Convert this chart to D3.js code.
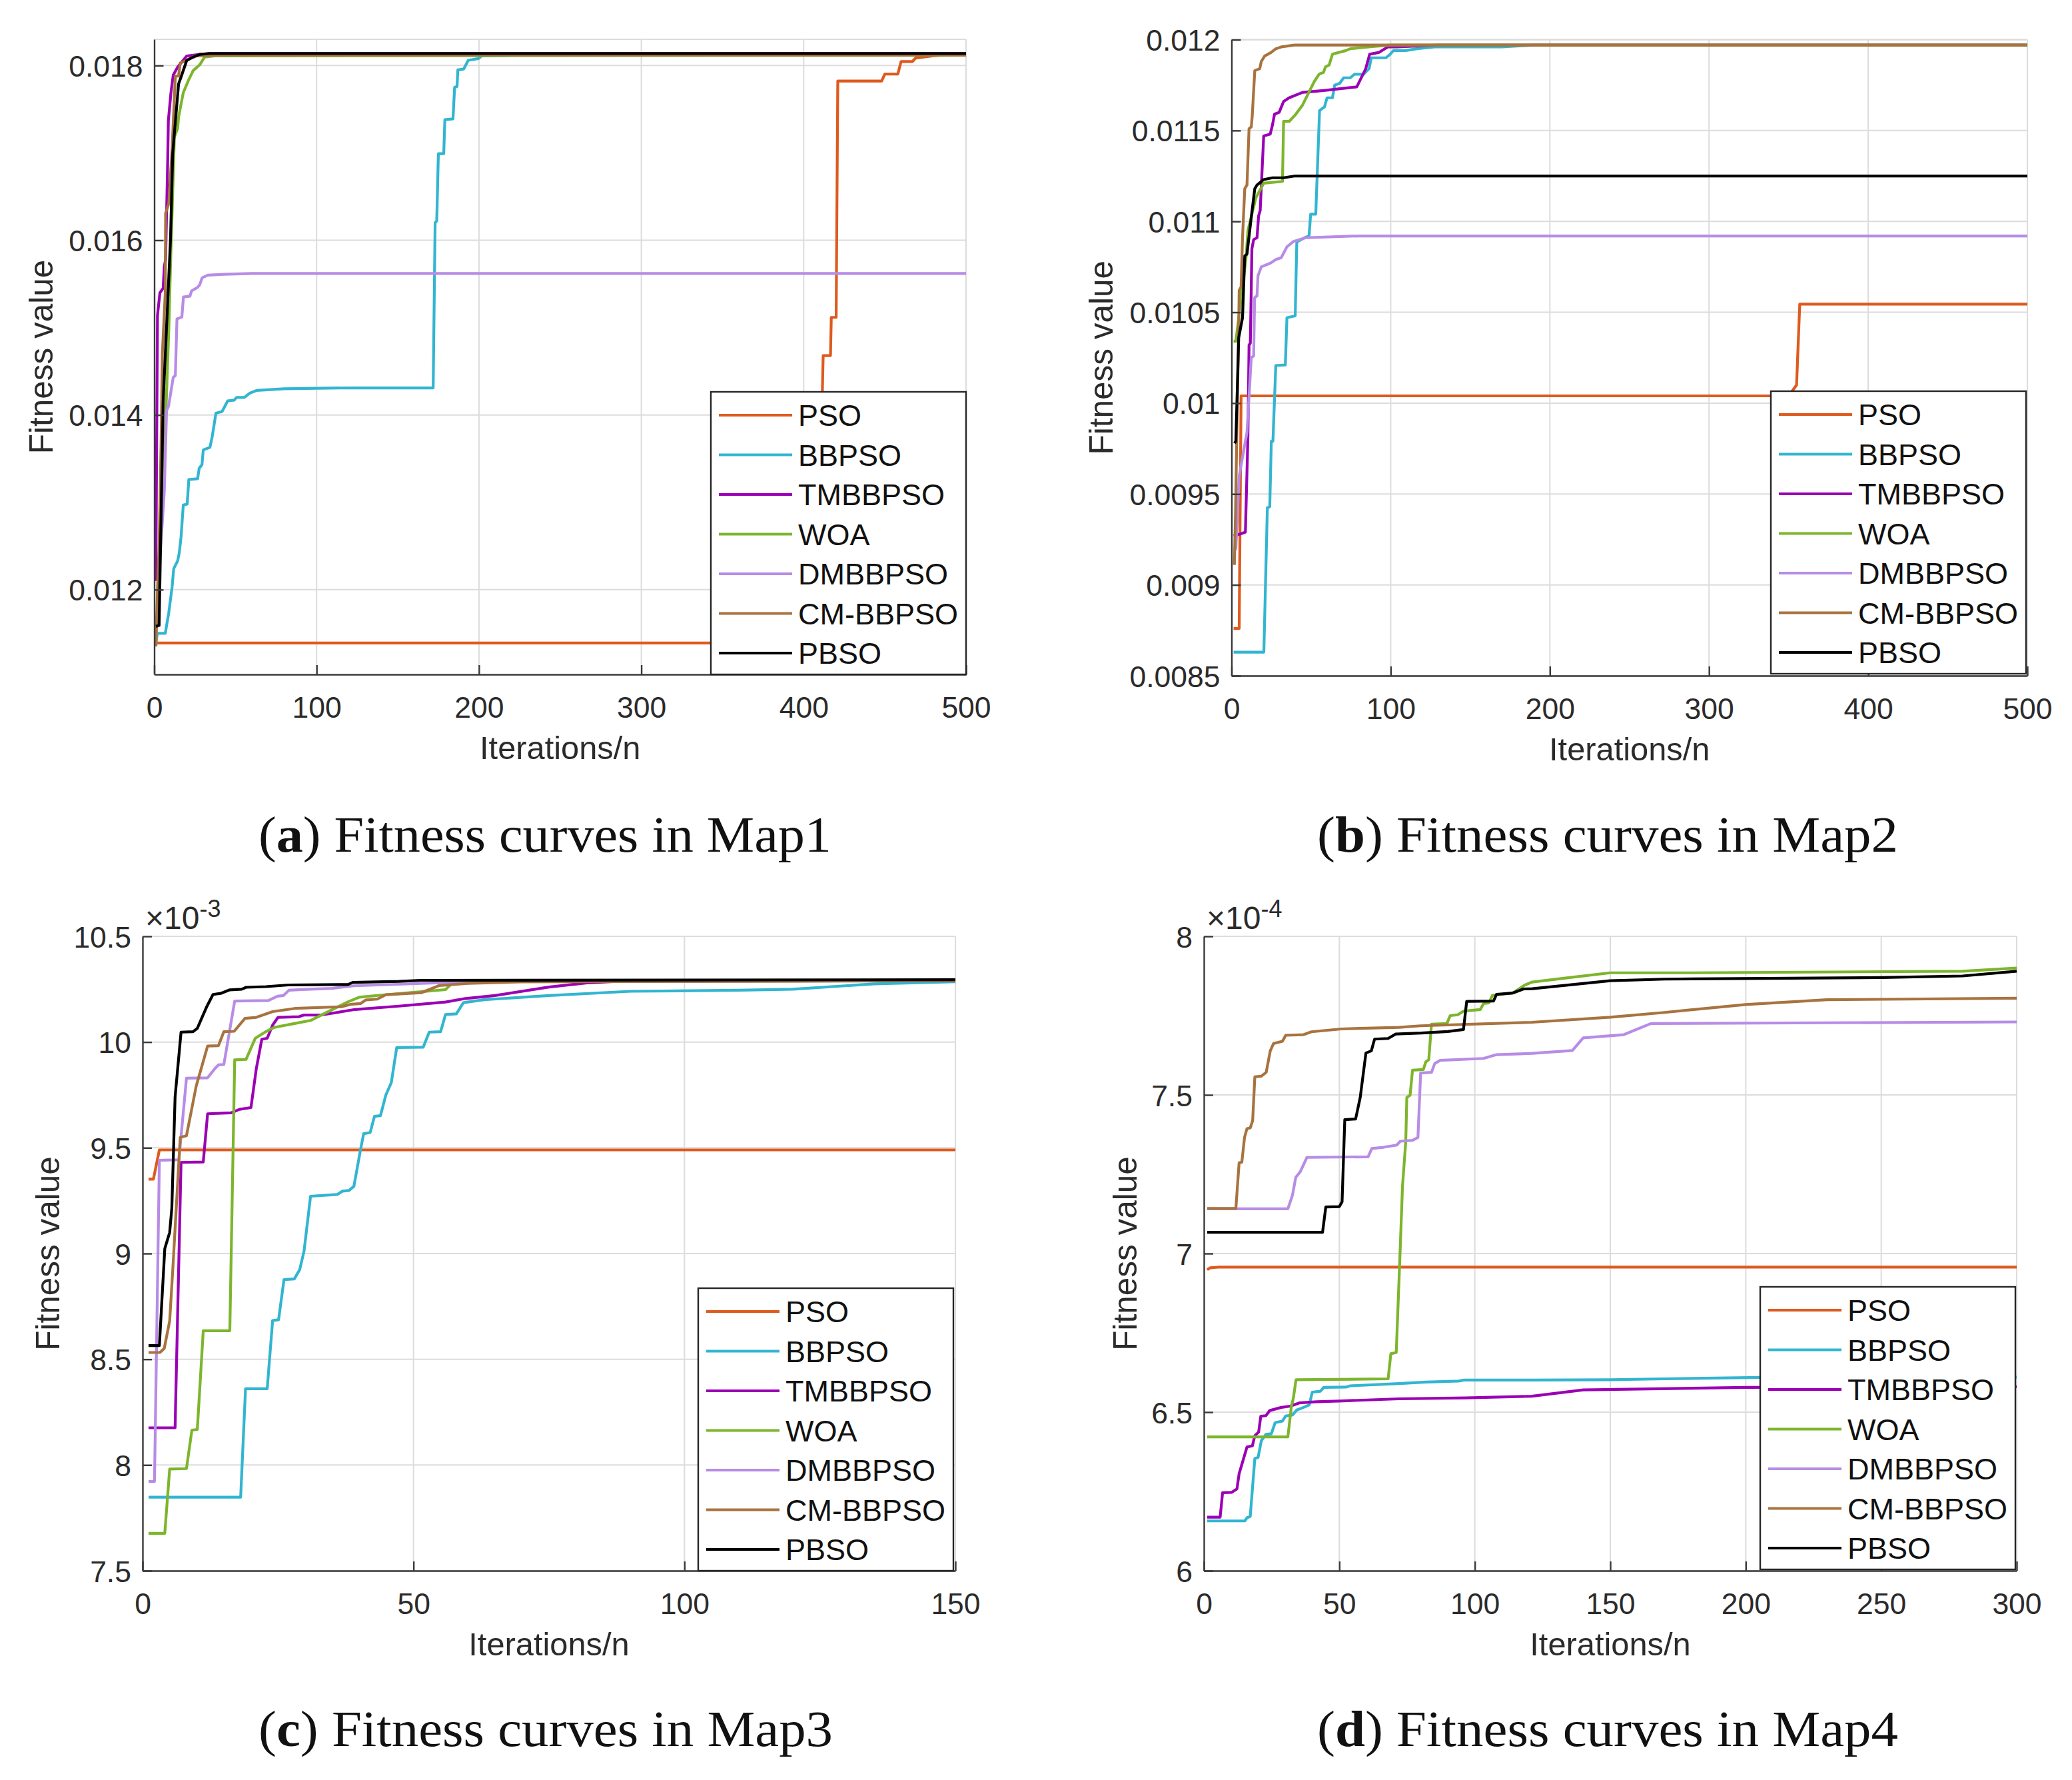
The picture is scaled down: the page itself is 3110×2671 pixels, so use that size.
<!DOCTYPE html>
<html>
<head>
<meta charset="utf-8">
<script src="https://cdn.jsdelivr.net/npm/d3@7"></script>
<style>
  html, body { margin: 0; background: #fff; }
  text { font-family: "Liberation Sans", Arial, sans-serif; fill: #2b2b2b; }
  .caption { font-family: "Liberation Serif", serif; fill: #111; }
</style>
</head>
<body>
<svg id="fig" width="3110" height="2671"></svg>
<script>
var algoNames = ["PSO", "BBPSO", "TMBBPSO", "WOA", "DMBBPSO", "CM-BBPSO", "PBSO"];
var algoColors = ["#de5a1e", "#32b5d1", "#9b00b5", "#7db52d", "#b78ce6", "#a8733f", "#000000"];

// Map1 [iteration, fitness]
var map1PSO = [[1,.01139],[408,.01139],[412,.01468],[416.5,.01468],[417,.015117],[420,.015117],[421,.017823],[448,.017823],[450,.017903],[458,.017903],[460,.018046],[467,.018046],[469,.018086],[480,.018112],[490,.018126],[500,.01813]];
var map1BBPSO = [[1,.0114],[2,.0115],[6.8,.0115],[8.9,.01173],[11,.01203],[12,.01224],[14.4,.01233],[15.4,.01242],[16.5,.0126],[17.9,.01297],[20.3,.01298],[21.3,.01326],[26.7,.01327],[27.7,.01339],[29.4,.01343],[30.2,.0136],[34.3,.01363],[35.6,.01374],[38,.01402],[41.8,.01404],[45.2,.01416],[49.3,.01417],[50.7,.0142],[55.5,.0142],[58.9,.01425],[63,.01428],[80,.0143],[120,.01431],[171.8,.01431],[173,.0162],[174,.01622],[175,.01699],[178.3,.01699],[179,.01738],[184,.01739],[185,.01775],[186.5,.01776],[187,.01795],[190.6,.01796],[193.4,.01806],[199.7,.01808],[201.7,.01811],[230,.01812],[500,.01813]];
var map1TMBBPSO = [[1,.0121],[1.4,.01341],[2,.01514],[3.5,.0154],[5.5,.01545],[6.2,.0157],[7,.01578],[8.3,.01692],[8.7,.01737],[10.3,.01769],[11.7,.01789],[14.4,.017982],[20,.018109],[28,.018127],[34,.018135],[500,.018135]];
var map1WOA = [[1,.01135],[3,.0122],[6,.0134],[9,.015],[10,.0157],[12.4,.01718],[14.4,.01728],[15,.01741],[17.9,.01769],[21.3,.01784],[24,.017943],[28,.018008],[31,.018096],[37,.01811],[500,.01812]];
var map1DMBBPSO = [[1,.0114],[3,.0122],[6.2,.01313],[7.6,.01405],[8.8,.0141],[11.7,.01443],[13,.01445],[14,.0151],[17,.01512],[18,.01535],[22,.01536],[23,.01542],[26.7,.01546],[28,.01549],[29.5,.01557],[33,.0156],[43,.01561],[60,.01562],[500,.01562]];
var map1CM = [[1,.01135],[2,.012],[3,.0125],[4.2,.01366],[5,.0147],[6.8,.0154],[7,.01631],[9,.01642],[11,.01705],[13,.01788],[15,.01788],[16,.01803],[19,.01805],[25,.01811],[40,.01812],[500,.01812]];
var map1PBSO = [[1,.01158],[3,.01159],[5.5,.01415],[10,.016],[11.4,.017],[15,.01779],[16.5,.017867],[20,.018058],[24,.018096],[28,.018127],[34,.018138],[500,.018138]];

// Map2
var map2PSO = [[1.3,.00876],[4.8,.00876],[6,.01004],[350,.01004],[355,.0101],[357,.010545],[500,.010545]];
var map2BBPSO = [[1.3,.00863],[20.3,.00863],[22.5,.009424],[24,.00943],[25,.00979],[26,.00979],[27.8,.010207],[33.8,.01021],[34.8,.01047],[40,.01048],[41,.010887],[45.9,.01091],[48.7,.01092],[49.7,.01104],[52.9,.01104],[55.3,.01161],[58.4,.01163],[60,.01168],[63.4,.01168],[64.8,.01175],[68,.01176],[70.4,.01179],[74.6,.01179],[77.3,.01181],[83,.01181],[86.4,.01184],[87.8,.0119],[97,.0119],[99.7,.01192],[101.7,.01194],[109.4,.01194],[116.4,.01195],[127.5,.01196],[170,.01196],[190,.01197],[500,.01197]];
var map2TMBBPSO = [[1.3,.00927],[5.5,.00928],[8.7,.00929],[10.3,.00982],[11,.01032],[11.8,.01033],[12.8,.01085],[13.9,.0109],[16,.01091],[17,.01103],[18,.01106],[20.2,.01147],[24.3,.01148],[25.7,.01153],[27,.01159],[29.9,.0116],[32.7,.01166],[36.2,.01168],[44.6,.01171],[57.8,.01172],[78.7,.01174],[84.3,.01184],[86.8,.01192],[92.7,.01193],[98.2,.01196],[103.9,.01196],[130,.01197],[500,.01197]];
var map2WOA = [[1.3,.01034],[2.7,.01034],[9,.01079],[10.3,.01095],[15.3,.01113],[20.2,.01121],[32,.01122],[32.7,.01155],[36.2,.01155],[40.4,.01159],[44.6,.01164],[52,.01177],[55,.01181],[57.8,.01182],[59,.01185],[61.3,.01186],[63.4,.01192],[71.8,.01194],[74.6,.01195],[86,.01196],[100,.01197],[500,.01197]];
var map2DMBBPSO = [[1.8,.00919],[2.7,.0092],[4.8,.0096],[9.7,.00984],[12.4,.01025],[13.9,.01026],[14.5,.01058],[16,.01059],[16.6,.0107],[18.7,.01075],[24.3,.01077],[27.8,.01079],[31.2,.0108],[34.8,.01086],[39,.01089],[46.6,.01091],[80,.01092],[500,.01092]];
var map2CM = [[1.8,.00911],[2.5,.0094],[3.2,.00977],[4.4,.01036],[4.8,.01062],[6,.01064],[6.9,.01091],[8.3,.01118],[9.7,.0112],[11,.01151],[12.4,.01152],[13,.01158],[14.6,.01183],[17.7,.01184],[18.7,.01188],[20.8,.01191],[24.9,.01193],[27.8,.01195],[31.2,.01196],[39.5,.01197],[500,.01197]];
var map2PBSO = [[1.8,.00978],[2.7,.00979],[4.5,.01036],[6.9,.01047],[8.3,.01081],[9.7,.01082],[12.5,.01103],[14.6,.01118],[16,.0112],[20.2,.01123],[25.7,.01124],[32.7,.01124],[40,.01125],[500,.01125]];

// Map3, axis units of 1e-3
var map3PSO = [[1.1,9.352],[2,9.352],[3.1,9.49],[150,9.49]];
var map3BBPSO = [[1.1,7.848],[18.1,7.848],[19,8.361],[23,8.361],[24,8.683],[25.1,8.687],[26.1,8.877],[28,8.88],[29,8.924],[29.8,9.012],[31,9.271],[35.9,9.279],[36.9,9.295],[38.1,9.298],[39,9.318],[40.2,9.488],[40.8,9.567],[42,9.572],[42.8,9.649],[43.9,9.652],[44.9,9.75],[45.9,9.808],[46.9,9.974],[51.8,9.976],[52.9,10.047],[55,10.049],[55.9,10.13],[57.9,10.133],[59.2,10.186],[63,10.2],[75,10.22],[90,10.24],[110,10.245],[120,10.25],[135,10.275],[150,10.285]];
var map3TMBBPSO = [[1.1,8.176],[6,8.176],[7.1,9.431],[11.2,9.433],[12,9.661],[16.3,9.665],[17.9,9.682],[20,9.69],[21,9.876],[22,10.013],[23,10.018],[24,10.08],[25,10.117],[28.9,10.12],[29.8,10.128],[33,10.128],[39.2,10.154],[47.3,10.17],[55.9,10.189],[59.6,10.206],[65,10.22],[75,10.26],[82,10.28],[90,10.29],[150,10.29]];
var map3WOA = [[1.1,7.677],[4.1,7.677],[5,7.981],[8.1,7.983],[9.1,8.165],[10.1,8.168],[11.2,8.635],[16.1,8.635],[16.7,9.488],[17,9.916],[19.1,9.918],[20.8,10.018],[22.8,10.05],[24.4,10.07],[27.7,10.086],[31,10.102],[33,10.128],[37.9,10.19],[40,10.212],[44,10.222],[51.4,10.238],[55.9,10.248],[57,10.275],[65,10.285],[150,10.29]];
var map3DMBBPSO = [[1.1,7.922],[2.2,7.922],[3.1,9.441],[6.7,9.443],[8.1,9.829],[12,9.831],[13.4,9.876],[14,9.892],[15,9.894],[17,10.194],[23.2,10.196],[24.9,10.217],[26,10.22],[27,10.245],[29.4,10.248],[35,10.254],[39,10.266],[51.4,10.277],[60,10.285],[150,10.29]];
var map3CM = [[1.1,8.532],[3.2,8.532],[4,8.551],[5,8.681],[5.6,8.935],[6.95,9.549],[8.1,9.557],[9.9,9.792],[12,9.981],[14,9.983],[15,10.049],[16.9,10.051],[18.9,10.112],[21,10.117],[24,10.144],[28.1,10.159],[36.7,10.167],[38.3,10.178],[40.2,10.182],[41.2,10.199],[43.3,10.203],[44.9,10.224],[51.4,10.233],[54.7,10.267],[60,10.277],[70,10.285],[150,10.29]];
var map3PBSO = [[1.1,8.565],[3.1,8.565],[4.1,9.023],[5,9.1],[5.4,9.216],[6,9.74],[7.1,10.047],[9.3,10.049],[10.1,10.065],[11.8,10.165],[13,10.225],[14.4,10.23],[16.1,10.247],[18.3,10.25],[19.1,10.259],[22.8,10.262],[26.9,10.27],[37.9,10.272],[38.8,10.282],[47.3,10.287],[51.4,10.292],[150,10.295]];

// Map4, axis units of 1e-4
var map4PSO = [[1.2,6.949],[2.4,6.955],[5.2,6.957],[300,6.957]];
var map4BBPSO = [[1.2,6.157],[15.1,6.157],[15.9,6.167],[17.1,6.171],[18.8,6.354],[20,6.357],[21.2,6.41],[22.9,6.43],[24.9,6.432],[26.3,6.467],[29,6.472],[30.2,6.488],[32.7,6.491],[34.3,6.507],[36.8,6.515],[38.9,6.523],[40,6.563],[43,6.566],[44.2,6.578],[52.4,6.579],[54,6.583],[72,6.59],[82,6.595],[94,6.598],[96,6.601],[121,6.601],[150,6.602],[170,6.605],[210,6.61],[300,6.61]];
var map4TMBBPSO = [[1.2,6.169],[6,6.169],[6.9,6.246],[10.2,6.247],[12.2,6.258],[13,6.306],[15.9,6.39],[17.9,6.394],[18.8,6.426],[20.2,6.437],[21,6.487],[22.9,6.489],[24.3,6.505],[28.6,6.515],[31.9,6.519],[35.2,6.529],[41.7,6.533],[49.9,6.535],[72,6.542],[96.6,6.545],[121,6.55],[135,6.565],[140,6.57],[200,6.578],[300,6.58]];
var map4WOA = [[1.2,6.422],[31,6.422],[32.3,6.519],[33,6.543],[34,6.602],[68,6.605],[69,6.684],[71,6.688],[72.4,7.002],[73.3,7.212],[74.5,7.352],[74.9,7.492],[76.1,7.499],[77,7.578],[81,7.58],[81.9,7.604],[83,7.611],[84,7.723],[89.7,7.725],[90.9,7.75],[93.8,7.753],[95.8,7.764],[102,7.769],[103.2,7.788],[105.2,7.79],[106.5,7.814],[113.9,7.821],[118.4,7.846],[121.2,7.856],[135,7.87],[150,7.885],[180,7.885],[280,7.89],[300,7.9]];
var map4DMBBPSO = [[1.2,7.141],[31,7.141],[32.7,7.184],[33.9,7.24],[35.6,7.258],[38,7.303],[60.6,7.305],[62,7.331],[66.3,7.335],[71.2,7.342],[72.5,7.354],[77,7.357],[79,7.366],[80,7.569],[84,7.571],[85.2,7.599],[87.2,7.609],[103.2,7.615],[108,7.627],[121.2,7.631],[136,7.64],[140,7.68],[155,7.69],[165,7.725],[300,7.73]];
var map4CM = [[1.2,7.142],[11.8,7.142],[13,7.286],[14,7.288],[15,7.366],[15.9,7.394],[17.1,7.396],[18,7.419],[18.8,7.557],[21.2,7.559],[23,7.571],[24.5,7.639],[25.7,7.662],[29,7.669],[30.2,7.688],[36.8,7.69],[39.7,7.699],[50.7,7.708],[72,7.713],[80,7.718],[121,7.729],[150,7.745],[170,7.76],[200,7.785],[230,7.8],[300,7.805]];
var map4PBSO = [[1.2,7.067],[43.8,7.067],[45,7.147],[50,7.148],[51,7.163],[52,7.422],[56,7.424],[57.7,7.492],[59.8,7.632],[61.8,7.639],[63,7.676],[68,7.678],[70.8,7.692],[80.2,7.695],[90,7.7],[95.8,7.706],[97,7.795],[106.9,7.796],[108,7.817],[113.9,7.821],[118,7.834],[121.2,7.835],[150,7.86],[170,7.865],[250,7.87],[280,7.875],[300,7.89]];

// ticks
var map1XTicks = [0, 100, 200, 300, 400, 500];
var map1YTicks = [0.012, 0.014, 0.016, 0.018];
var map1YLabels = ["0.012", "0.014", "0.016", "0.018"];
var map2XTicks = [0, 100, 200, 300, 400, 500];
var map2YTicks = [0.0085, 0.009, 0.0095, 0.01, 0.0105, 0.011, 0.0115, 0.012];
var map2YLabels = ["0.0085", "0.009", "0.0095", "0.01", "0.0105", "0.011", "0.0115", "0.012"];
var map3XTicks = [0, 50, 100, 150];
var map3YTicks = [7.5, 8, 8.5, 9, 9.5, 10, 10.5];
var map3YLabels = ["7.5", "8", "8.5", "9", "9.5", "10", "10.5"];
var map4XTicks = [0, 50, 100, 150, 200, 250, 300];
var map4YTicks = [6, 6.5, 7, 7.5, 8];
var map4YLabels = ["6", "6.5", "7", "7.5", "8"];

var panels = [
  { id: "a", map: "Map1", box: [231.5, 1450, 59, 1012], xMax: 500, yDom: [0.01103, 0.0183], legShift: [0, 0], capW: 860,
    xTicks: map1XTicks, yTicks: map1YTicks, yLabels: map1YLabels, ylabelX: 63, capX: 818, capY: 1278,
    series: [map1PSO, map1BBPSO, map1TMBBPSO, map1WOA, map1DMBBPSO, map1CM, map1PBSO] },
  { id: "b", map: "Map2", box: [1848.5, 3043, 59.5, 1014], xMax: 500, yDom: [0.0085, 0.012], legShift: [-2, -3], capW: 872,
    xTicks: map2XTicks, yTicks: map2YTicks, yLabels: map2YLabels, ylabelX: 1654, capX: 2413, capY: 1278,
    series: [map2PSO, map2BBPSO, map2TMBBPSO, map2WOA, map2DMBBPSO, map2CM, map2PBSO] },
  { id: "c", map: "Map3", box: [214, 1434, 1405, 2357], xMax: 150, yDom: [7.5, 10.5], exp: "-3", legShift: [-3, 0], capW: 862,
    xTicks: map3XTicks, yTicks: map3YTicks, yLabels: map3YLabels, ylabelX: 73, capX: 819, capY: 2620,
    series: [map3PSO, map3BBPSO, map3TMBBPSO, map3WOA, map3DMBBPSO, map3CM, map3PBSO] },
  { id: "d", map: "Map4", box: [1807, 3027, 1405, 2357], xMax: 300, yDom: [6, 8], exp: "-4", legShift: [-2, -2], capW: 872,
    xTicks: map4XTicks, yTicks: map4YTicks, yLabels: map4YLabels, ylabelX: 1690, capX: 2413, capY: 2620,
    series: [map4PSO, map4BBPSO, map4TMBBPSO, map4WOA, map4DMBBPSO, map4CM, map4PBSO] }
];

var svg = d3.select("#fig");
var axisColor = "#3a3a3a";
var gridColor = "#dcdcdc";

panels.forEach(function (p) {
  var left = p.box[0], right = p.box[1], top = p.box[2], bottom = p.box[3];
  var x = d3.scaleLinear().domain([0, p.xMax]).range([left, right]);
  var y = d3.scaleLinear().domain(p.yDom).range([bottom, top]);
  var g = svg.append("g");

  // grid, plus the pale top and right edges
  g.selectAll(".gx").data(p.xTicks.slice(1)).enter().append("line")
    .attr("x1", function (d) { return x(d); }).attr("x2", function (d) { return x(d); })
    .attr("y1", top).attr("y2", bottom)
    .attr("stroke", gridColor).attr("stroke-width", 2);
  g.selectAll(".gy").data(p.yTicks.concat([p.yDom[1]])).enter().append("line")
    .attr("x1", left).attr("x2", right)
    .attr("y1", function (d) { return y(d); }).attr("y2", function (d) { return y(d); })
    .attr("stroke", gridColor).attr("stroke-width", 2);

  // curves
  var line = d3.line()
    .x(function (d) { return x(d[0]); })
    .y(function (d) { return y(d[1]); });
  p.series.forEach(function (s, i) {
    g.append("path").datum(s)
      .attr("d", line)
      .attr("fill", "none")
      .attr("stroke", algoColors[i])
      .attr("stroke-width", 4.2)
      .attr("stroke-linejoin", "round");
  });

  // axes, ticks point inward
  var xAxis = d3.axisBottom(x).tickValues(p.xTicks).tickFormat(d3.format("d"))
    .tickSizeInner(-14).tickSizeOuter(0).tickPadding(33);
  var yAxis = d3.axisLeft(y).tickValues(p.yTicks)
    .tickFormat(function (d, i) { return p.yLabels[i]; })
    .tickSizeInner(-14).tickSizeOuter(0).tickPadding(17);
  var xg = g.append("g").attr("transform", "translate(0," + bottom + ")").call(xAxis);
  var yg = g.append("g").attr("transform", "translate(" + left + ",0)").call(yAxis);
  yg.selectAll("text").attr("dy", "0.36em");
  [xg, yg].forEach(function (a) {
    a.attr("font-size", 44.5).attr("font-family", null);
    a.selectAll("path, line").attr("stroke", axisColor).attr("stroke-width", 2.4);
    a.selectAll("text").attr("fill", "#2b2b2b");
  });

  g.append("text")
    .attr("x", (left + right) / 2).attr("y", bottom + 127)
    .attr("text-anchor", "middle").attr("font-size", 48.8)
    .text("Iterations/n");
  g.append("text")
    .attr("transform", "translate(" + (p.ylabelX + 16) + "," + (top + bottom) / 2 + ") rotate(-90)")
    .attr("text-anchor", "middle").attr("font-size", 49.5)
    .text("Fitness value");

  if (p.exp) {
    var e = g.append("text").attr("x", left + 4).attr("y", top - 11).attr("font-size", 48);
    e.append("tspan").text("\u00d710");
    e.append("tspan").attr("dy", -18).attr("font-size", 36).text(p.exp);
  }

  // legend sits in the bottom right corner
  var legW = 383, legH = 424;
  var legX = right - legW + p.legShift[0], legY = bottom - legH + p.legShift[1];
  var leg = g.append("g").attr("transform", "translate(" + legX + "," + legY + ")");
  leg.append("rect").attr("width", legW).attr("height", legH)
    .attr("fill", "#fff").attr("stroke", "#262626").attr("stroke-width", 2.4);
  algoNames.forEach(function (name, i) {
    var ry = 35 + i * 59.5;
    leg.append("line").attr("x1", 12).attr("x2", 122).attr("y1", ry).attr("y2", ry)
      .attr("stroke", algoColors[i]).attr("stroke-width", 4);
    leg.append("text").attr("x", 131).attr("y", ry + 16).attr("font-size", 45)
      .style("fill", "#111").text(name);
  });

  // caption under the panel
  var cap = g.append("text").attr("class", "caption")
    .attr("x", p.capX).attr("y", p.capY)
    .attr("text-anchor", "middle").attr("font-size", 76)
    .attr("textLength", p.capW).attr("lengthAdjust", "spacingAndGlyphs");
  cap.append("tspan").text("(");
  cap.append("tspan").attr("font-weight", "bold").text(p.id);
  cap.append("tspan").text(") Fitness curves in " + p.map);
});
</script>
</body>
</html>
